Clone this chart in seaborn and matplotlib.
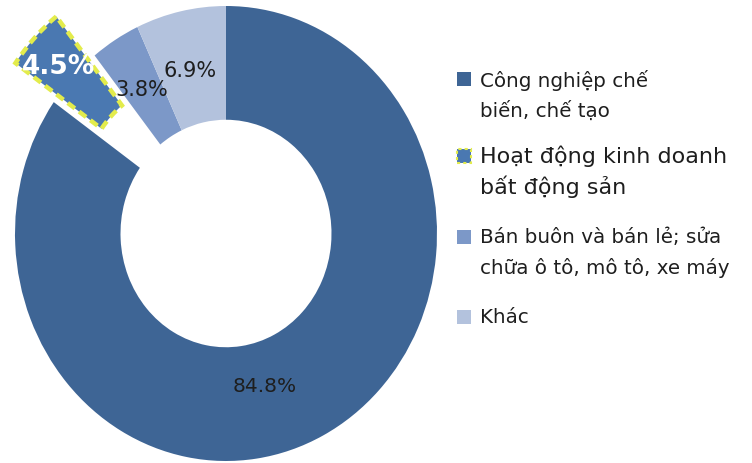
import matplotlib
matplotlib.use("Agg")
import matplotlib.pyplot as plt
from matplotlib.patches import Rectangle
import seaborn as sns

# ---- data ----
categories = [
    "Công nghiệp chế\nbiến, chế tạo",
    "Hoạt động kinh doanh\nbất động sản",
    "Bán buôn và bán lẻ; sửa\nchữa ô tô, mô tô, xe máy",
    "Khác",
]
values = [84.8, 4.5, 3.8, 6.9]
pct_labels = ["84.8%", "4.5%", "3.8%", "6.9%"]

# ---- style ----
sns.set_theme(style="white")
plt.rcParams["font.family"] = ["DejaVu Sans"]
colors = sns.color_palette(["#3E6595", "#4A78B1", "#7C98C8", "#B3C2DD"])
highlight_edge = "#E3EC4C"
explode = [0, 0.25, 0, 0]

W, H = 752, 464
fig = plt.figure(figsize=(W / 100, H / 100), dpi=100)
fig.patch.set_facecolor("white")

# pie axes spanning the (slightly stretched) donut box
ax = fig.add_axes([15 / W, 2 / H, 422 / W, 455 / H])
wedges, _ = ax.pie(
    values,
    startangle=90,
    counterclock=False,
    explode=explode,
    colors=colors,
    radius=1.0,
    wedgeprops=dict(width=0.5, linewidth=0),
)
for w in wedges:
    w.set_clip_on(False)
hw = wedges[1]
hw.set_edgecolor(highlight_edge)
hw.set_linewidth(3.2)
hw.set_linestyle((0, (2.0, 1.2)))
hw.set_zorder(5)

ax.set_aspect("auto")
ax.set_xlim(-1, 1)
ax.set_ylim(-1, 1)
ax.axis("off")

# percentage labels (positions in data units of the pie axes)
label_pos = [(0.185, -0.667), (-0.796, 0.737), (-0.398, 0.636), (-0.171, 0.719)]
label_style = [
    dict(color="#1E1E1E", fontsize=14.5),
    dict(color="white", fontsize=19, fontweight="bold"),
    dict(color="#1E1E1E", fontsize=15),
    dict(color="#1E1E1E", fontsize=15),
]
for txt, (x, y), st in zip(pct_labels, label_pos, label_style):
    ax.text(x, y, txt, ha="center", va="center", zorder=10, clip_on=False, **st)

# ---- legend (manual, to reproduce the layout) ----
entry_y = [80, 157, 238, 318]  # pixel y of first line of each entry
text_size = [14.3, 16, 14.3, 14.3]
line_sp = [1.59, 1.42, 1.69, 1.5]
for i, (lab, y) in enumerate(zip(categories, entry_y)):
    sq = 14
    ec = highlight_edge if i == 1 else colors[i]
    rect = Rectangle(((464 - sq / 2) / W, 1 - (y + sq / 2) / H), sq / W, sq / H,
                     transform=fig.transFigure, facecolor=colors[i],
                     edgecolor=ec, linewidth=1.5 if i == 1 else 0,
                     linestyle=(0, (1.5, 1.5)) if i == 1 else "-")
    fig.patches.append(rect)
    em_px = text_size[i] * 100 / 72
    fig.text(480 / W, 1 - (y - 0.5 * em_px) / H, lab, ha="left", va="top",
             fontsize=text_size[i], color="#1E1E1E", linespacing=line_sp[i])

fig.savefig("out.png", dpi=100, facecolor="white")
